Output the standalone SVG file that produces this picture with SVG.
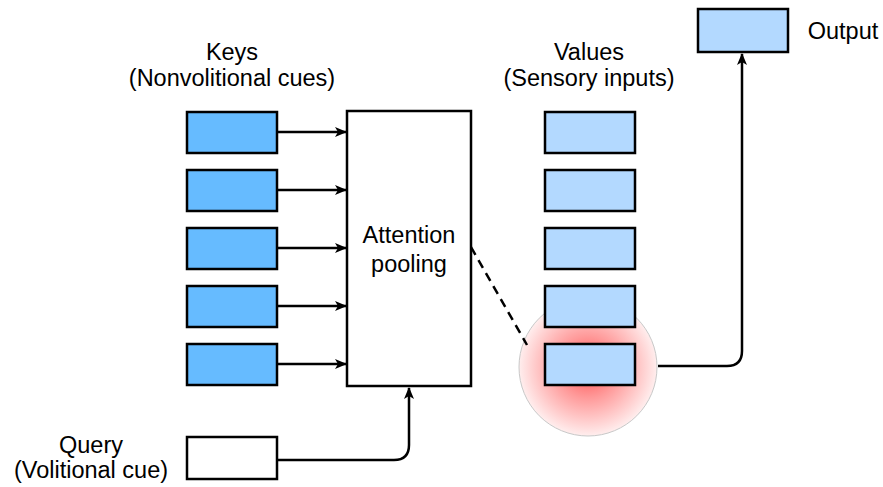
<svg xmlns="http://www.w3.org/2000/svg" width="883" height="487" viewBox="0 0 883 487">
<style>
.t{font-family:"Liberation Sans",Arial,sans-serif;font-size:23.5px;fill:#000;text-anchor:middle}
.k{fill:#66bbff;stroke:#000;stroke-width:2.5}
.v{fill:#b3d9ff;stroke:#000;stroke-width:2.5}
.w{fill:#fff;stroke:#000;stroke-width:2.5}
.c{fill:none;stroke:#000;stroke-width:2.5}
</style>
<defs>
<radialGradient id="glow" cx="50%" cy="50%" r="50%">
<stop offset="0" stop-color="#ff4d4d"/>
<stop offset="0.45" stop-color="#ff9a9a"/>
<stop offset="1" stop-color="#ffeeee"/>
</radialGradient>
<marker id="ah" viewBox="0 0 12 10" refX="11" refY="5" markerWidth="12" markerHeight="10" markerUnits="userSpaceOnUse" orient="auto">
<path d="M0,0 L12,5 L0,10 L3,5 z" fill="#000"/>
</marker>
</defs>
<g id="glow-circle"><circle cx="588" cy="367" r="69" fill="url(#glow)" stroke="#c8c8c8" stroke-width="1"/></g>
<g id="keys-label"><text class="t" x="232" y="60">Keys</text><text class="t" x="232" y="86">(Nonvolitional cues)</text></g>
<g id="values-label"><text class="t" x="589" y="60">Values</text><text class="t" x="589" y="86">(Sensory inputs)</text></g>
<g id="key1"><rect class="k" x="187" y="112" width="90" height="41"/></g>
<g id="key2"><rect class="k" x="187" y="170" width="90" height="41"/></g>
<g id="key3"><rect class="k" x="187" y="228" width="90" height="41"/></g>
<g id="key4"><rect class="k" x="187" y="286" width="90" height="41"/></g>
<g id="key5"><rect class="k" x="187" y="344" width="90" height="41"/></g>
<g id="value1"><rect class="v" x="545" y="112" width="90" height="41"/></g>
<g id="value2"><rect class="v" x="545" y="170" width="90" height="41"/></g>
<g id="value3"><rect class="v" x="545" y="228" width="90" height="41"/></g>
<g id="value4"><rect class="v" x="545" y="286" width="90" height="41"/></g>
<g id="value5"><rect class="v" x="545" y="344" width="90" height="41"/></g>
<g id="attention"><rect class="w" x="347" y="111" width="124" height="275"/><text class="t" x="409" y="243">Attention</text><text class="t" x="409" y="272">pooling</text></g>
<g id="query"><rect class="w" x="187" y="437" width="90" height="42"/><text class="t" x="91" y="453">Query</text><text class="t" x="91" y="478">(Volitional cue)</text></g>
<g id="output"><rect class="v" x="698" y="9" width="90" height="43"/><text class="t" x="843" y="39">Output</text></g>
<g id="connectors">
<line class="c" x1="277" y1="132" x2="346" y2="132" marker-end="url(#ah)"/>
<line class="c" x1="277" y1="190" x2="346" y2="190" marker-end="url(#ah)"/>
<line class="c" x1="277" y1="248" x2="346" y2="248" marker-end="url(#ah)"/>
<line class="c" x1="277" y1="306" x2="346" y2="306" marker-end="url(#ah)"/>
<line class="c" x1="277" y1="364" x2="346" y2="364" marker-end="url(#ah)"/>
<path class="c" d="M277,460 H394 Q409,460 409,445 V388" marker-end="url(#ah)"/>
<line class="c" x1="471" y1="247" x2="527" y2="345" stroke-dasharray="9,6"/>
<path class="c" d="M658,366 H727 Q742,366 742,351 V54" marker-end="url(#ah)"/>
</g>
</svg>
